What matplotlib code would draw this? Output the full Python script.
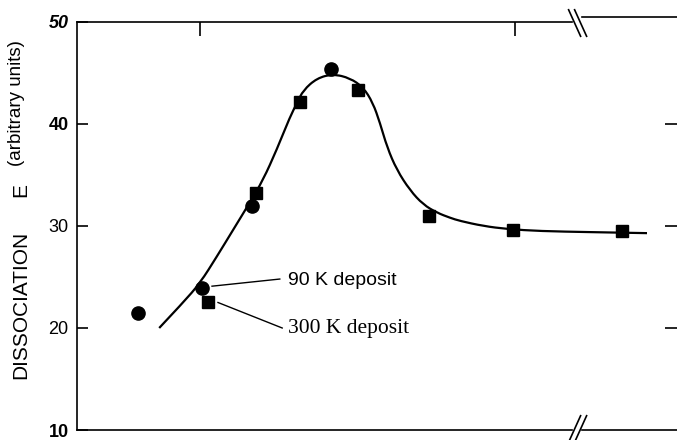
import numpy as np
import matplotlib.pyplot as plt
from matplotlib.path import Path
from matplotlib.patches import PathPatch

plt.rcParams['font.family'] = ['Liberation Sans', 'DejaVu Sans']

# 数据（从图中读取，x 为任意单位）
circle_x = [10.2, 20.8, 29.2, 42.3]
circle_y = [21.5, 23.9, 32.0, 45.4]
square_x = [21.8, 29.8, 37.2, 46.8, 58.7, 72.7, 90.8]
square_y = [22.5, 33.2, 42.2, 43.3, 31.0, 29.6, 29.5]

# 拟合曲线（沿曲线读取的点）
curve_x = [13.7, 17.7, 20.5, 23.3, 26.0, 28.8, 31.0, 33.3, 35.5, 36.7, 37.7,
           40.0, 42.7, 45.5, 47.7, 49.3, 50.5, 51.7, 53.3, 55.5, 57.7, 60.0,
           62.2, 63.8, 67.7, 71.7, 77.2, 85.5, 95.0]
curve_y = [20.0, 22.5, 24.4, 27.0, 29.6, 32.3, 34.5, 37.5, 40.7, 42.1, 43.3,
           44.5, 44.9, 44.5, 43.6, 42.1, 40.1, 37.7, 35.5, 33.5, 32.1, 31.3,
           30.8, 30.5, 30.0, 29.7, 29.5, 29.4, 29.3]

y_ticks = [10, 20, 30, 40, 50]
y_labels = ['10', '20', '30', '40', '50']
top_ticks = [20.5, 73.0]

fig = plt.figure(figsize=(6.77, 4.40), dpi=100)
ax = fig.add_axes([77 / 677, 10 / 440, 600 / 677, 408 / 440])

# 用二次贝塞尔平滑连接读取的曲线点
pts = list(zip(curve_x, curve_y))
verts = [pts[0]]
codes = [Path.MOVETO]
for i in range(1, len(pts) - 1):
    mid = ((pts[i][0] + pts[i + 1][0]) / 2, (pts[i][1] + pts[i + 1][1]) / 2)
    verts += [pts[i], mid]
    codes += [Path.CURVE3, Path.CURVE3]
verts.append(pts[-1])
codes.append(Path.LINETO)
ax.add_patch(PathPatch(Path(verts, codes), fill=False, edgecolor='black', lw=1.6))

ax.plot(circle_x, circle_y, 'o', color='black', ms=9.5)
ax.plot(square_x, square_y, 's', color='black', ms=9)

ax.set_xlim(0, 100)
ax.set_ylim(10, 50)

# 坐标轴
for s in ['top', 'bottom', 'right']:
    ax.spines[s].set_visible(False)
ax.spines['left'].set_linewidth(1.2)

brk = (577 - 77) / 600
gap = 0.008
kw = dict(transform=ax.transAxes, clip_on=False, color='black', lw=1.2)
ax.plot([0, brk - gap], [1, 1], **kw)
ax.plot([brk + gap, 1], [1.012, 1.012], **kw)
ax.plot([0, brk - gap], [0, 0], **kw)
ax.plot([brk + gap, 1], [0, 0], **kw)
for dx in [-0.006, 0.004]:
    ax.plot([brk + dx - 0.008, brk + dx + 0.012], [1.03, 0.965], **kw)
    ax.plot([brk + dx - 0.008, brk + dx + 0.012], [-0.03, 0.035], **kw)

ax.set_yticks(y_ticks)
ax.set_yticklabels(y_labels, fontsize=13)
ax.tick_params(axis='y', direction='in', length=8, width=1.2, pad=6, right=False)
for lab, w, st in zip(ax.get_yticklabels(),
                      ['bold', 'normal', 'normal', 'bold', 'bold'],
                      ['normal', 'normal', 'normal', 'normal', 'italic']):
    lab.set_fontweight(w)
    lab.set_fontstyle(st)

ax.set_xticks(top_ticks)
ax.tick_params(axis='x', direction='in', length=10, width=1.2,
               bottom=False, top=True, labelbottom=False, labeltop=False)

# 右侧刻度
ax_r = ax.twinx()
ax_r.set_ylim(10, 50)
ax_r.set_yticks([20, 30, 40])
ax_r.tick_params(axis='y', direction='in', length=9, width=1.2, labelright=False)
for s in ax_r.spines.values():
    s.set_visible(False)

# 标注
ax.plot([22.5, 33.8], [24.1, 24.8], color='black', lw=1)
ax.plot([23.5, 34.2], [22.5, 20.0], color='black', lw=1)
ax.text(35.2, 24.7, '90 K deposit', fontsize=14, va='center', ha='left')
ax.text(35.2, 20.0, '300 K deposit', fontsize=15.5, va='center', ha='left',
        family=['Liberation Serif', 'DejaVu Serif'])

# y 轴标题
fig.text(21 / 677, 1 - 305 / 440, 'DISSOCIATION', rotation=90, fontsize=15,
         ha='center', va='center')
fig.text(21 / 677, 1 - 190 / 440, 'E', rotation=90, fontsize=15,
         ha='center', va='center')
fig.text(17 / 677, 1 - 103 / 440, '(arbitrary units)', rotation=90, fontsize=13.5,
         ha='center', va='center')

plt.savefig('out.png', dpi=100)
